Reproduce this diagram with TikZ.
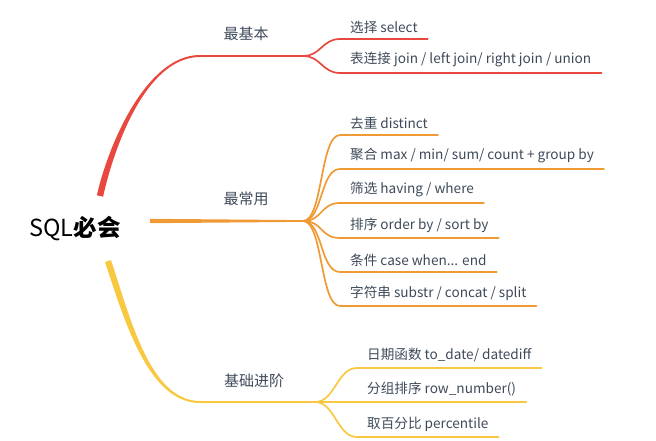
\documentclass[tikz,border=0pt]{standalone}
\usepackage{fontspec}
\usetikzlibrary{calc}
\setmainfont{Noto Sans CJK SC}
\definecolor{cred}{HTML}{E8483D}
\definecolor{corg}{HTML}{F09A35}
\definecolor{cyel}{HTML}{F9C841}
\definecolor{ctxt}{HTML}{3E4A59}
\begin{document}
\begin{tikzpicture}[x=1pt,y=-1pt,
  leaf/.style={anchor=south west, inner xsep=10pt, inner ysep=5.5pt, font=\fontsize{13.6}{16}\selectfont, text=ctxt},
  mid/.style={font=\fontsize{15}{18}\selectfont, text=ctxt},
  conn/.style={line width=1.7pt, line cap=round}]
\useasboundingbox (0,0) rectangle (656,441);
\node[font=\fontsize{23.5}{26}\selectfont] (root) at (75,229) {SQL\textbf{必会}};

% forks
\coordinate (rf) at (303,56);
\coordinate (of) at (303,221);
\coordinate (yf) at (315,402);

% main branches (tapered)
\fill[cred] (96.9,195.3) .. controls (107,149) and (145,55) .. (200,55) -- ($(rf)+(0,-0.8)$) -- ($(rf)+(0,0.8)$) -- (200,57) .. controls (145,57) and (113,151) .. (103.1,196.7) -- cycle;
\fill[corg] (150,218.8) -- ($(of)+(0,-0.85)$) -- ($(of)+(0,0.85)$) -- (150,223.2) -- cycle;
\fill[cyel] (111,260) .. controls (130,317) and (150,401) .. (200,401) -- ($(yf)+(0,-0.8)$) -- ($(yf)+(0,0.8)$) -- (200,403) .. controls (148,403) and (124,319) .. (105,262) -- cycle;

% branch labels
\node[mid] (m1) at (246,34) {最基本};
\node[mid] (m2) at (246,199) {最常用};
\node[mid] (m3) at (254,381) {基础进阶};

% red leaves
\node[leaf] (a1) at (340,39) {选择 select};
\node[leaf] (a2) at (340,73) {表连接 join / left join/ right join / union};
\foreach \n in {a1,a2}
  \draw[cred,conn] (rf) .. controls +(18,0) and +(-18,0) .. (\n.south west) -- (\n.south east);

% orange leaves
\node[leaf] (b1) at (340,135) {去重 distinct};
\node[leaf] (b2) at (340,169) {聚合 max / min/ sum/ count + group by};
\node[leaf] (b3) at (340,203) {筛选 having / where};
\node[leaf] (b4) at (340,238) {排序 order by / sort by};
\node[leaf] (b5) at (340,272) {条件 case when... end};
\node[leaf] (b6) at (340,306) {字符串 substr / concat / split};
\foreach \n in {b1,b2,b3,b4,b5,b6}
  \draw[corg,conn] (of) .. controls +(20,0) and +(-20,0) .. (\n.south west) -- (\n.south east);

% yellow leaves
\node[leaf] (c1) at (357,368) {日期函数 to\_date/ datediff};
\node[leaf] (c2) at (357,402) {分组排序 row\_number()};
\node[leaf] (c3) at (357,437) {取百分比 percentile};
\foreach \n in {c1,c2,c3}
  \draw[cyel,conn] (yf) .. controls +(20,0) and +(-20,0) .. (\n.south west) -- (\n.south east);
\end{tikzpicture}
\end{document}
